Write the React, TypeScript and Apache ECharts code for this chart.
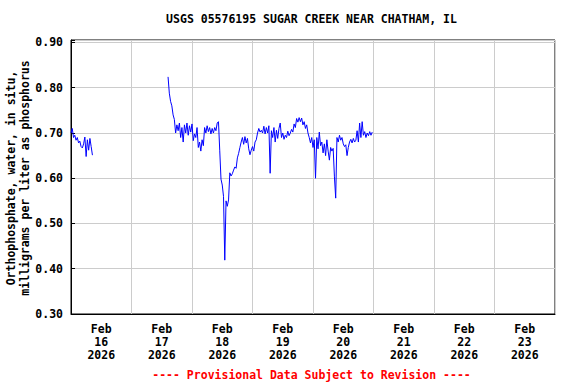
import React, { useEffect, useRef } from "react";
import * as echarts from "echarts";

const chartTitle = "USGS 05576195 SUGAR CREEK NEAR CHATHAM, IL";
const yAxisTitleLines = ["Orthophosphate, water, in situ,", "milligrams per liter as phosphorus"];
const footerText = "---- Provisional Data Subject to Revision ----";
const monthLabel = "Feb";
const yearLabel = "2026";
const dayLabels = ["16", "17", "18", "19", "20", "21", "22", "23"];

// hours since Feb 16 2026 00:00, 30-minute readings
const stepHours = 0.5;
const seg1StartHour = 0;
const seg1Values = [
  0.700, 0.710, 0.690, 0.695, 0.684, 0.690, 0.678, 0.682, 0.670, 0.667,
  0.676, 0.691, 0.648, 0.685, 0.662, 0.688, 0.670, 0.651,
];
const seg2StartHour = 38.5;
const seg2Values = [
  0.824, 0.788, 0.770, 0.760, 0.740, 0.730, 0.700, 0.718, 0.705, 0.722,
  0.690, 0.712, 0.680, 0.718, 0.700, 0.722, 0.695, 0.716, 0.702, 0.720,
  0.683, 0.698, 0.690, 0.712, 0.668, 0.680, 0.660, 0.685, 0.672, 0.712,
  0.700, 0.716, 0.703, 0.712, 0.698, 0.710, 0.700, 0.712, 0.705, 0.722,
  0.725, 0.662, 0.598, 0.585, 0.560, 0.419, 0.550, 0.538, 0.552, 0.612,
  0.605, 0.610, 0.618, 0.625, 0.622, 0.645, 0.655, 0.668, 0.680, 0.690,
  0.675, 0.692, 0.678, 0.688, 0.665, 0.652, 0.662, 0.670, 0.660, 0.680,
  0.685, 0.700, 0.710, 0.702, 0.706, 0.700, 0.715, 0.698, 0.712, 0.700,
  0.716, 0.611, 0.705, 0.690, 0.712, 0.680, 0.706, 0.688, 0.710, 0.722,
  0.690, 0.700, 0.686, 0.695, 0.690, 0.704, 0.694, 0.700, 0.708, 0.702,
  0.720, 0.712, 0.732, 0.724, 0.734, 0.725, 0.733, 0.718, 0.725, 0.710,
  0.718, 0.700, 0.690, 0.678, 0.690, 0.668, 0.685, 0.600, 0.690, 0.665,
  0.702, 0.672, 0.680, 0.656, 0.676, 0.650, 0.685, 0.660, 0.640, 0.668,
  0.660, 0.666, 0.603, 0.556, 0.690, 0.680, 0.695, 0.684, 0.690, 0.676,
  0.670, 0.674, 0.650, 0.668, 0.680, 0.686, 0.678, 0.688, 0.680, 0.684,
  0.705, 0.680, 0.722, 0.690, 0.725, 0.695, 0.703, 0.690, 0.700, 0.694,
  0.703, 0.695, 0.702,
];

const yMin = 0.3;
const yMax = 0.9055;
const yStep = 0.1;
const xMaxHours = 192;

const FONT = "'DejaVu Sans Mono', monospace";

function toPairs(start: number, vals: number[]) {
  return vals.map((v, i) => [start + i * stepHours, v]);
}

export default function App() {
  const ref = useRef<HTMLDivElement>(null);
  useEffect(() => {
    if (!ref.current) return;
    const chart = echarts.init(ref.current, null, { renderer: "svg" });
    const lineStyle = { color: "#0000ff", width: 1 };
    chart.setOption({
      animation: false,
      backgroundColor: "#ffffff",
      grid: {
        left: 71,
        right: 21,
        top: 40,
        bottom: 70,
        show: true,
        borderColor: "#000",
        borderWidth: 1,
        backgroundColor: "transparent",
      },
      xAxis: [
        {
          type: "value",
          min: 0,
          max: xMaxHours,
          interval: 24,
          axisLine: { show: true, lineStyle: { color: "#000" } },
          axisTick: { show: false },
          axisLabel: { show: false },
          splitLine: { show: true, lineStyle: { color: "#cccccc", width: 1 } },
        },
        {
          type: "value",
          min: 0,
          max: xMaxHours,
          interval: 12,
          position: "bottom",
          axisLine: { show: false },
          axisTick: { show: false },
          splitLine: { show: false },
          axisLabel: {
            show: true,
            margin: 8,
            fontFamily: FONT,
            fontWeight: "bold",
            fontSize: 11.5,
            color: "#000",
            lineHeight: 13,
            align: "center",
            formatter: (v: number) => {
              const k = (v - 12) / 24;
              if (Math.abs(k - Math.round(k)) > 1e-6) return "";
              const idx = Math.round(k);
              if (idx < 0 || idx >= dayLabels.length) return "";
              return monthLabel + "\n" + dayLabels[idx] + "\n" + yearLabel;
            },
          },
        },
      ],
      yAxis: {
        type: "value",
        min: yMin,
        max: yMax,
        interval: yStep,
        axisLine: { show: true, lineStyle: { color: "#000" } },
        axisTick: { show: true, inside: true, length: 4, lineStyle: { color: "#000" } },
        splitLine: { show: true, lineStyle: { color: "#cccccc", width: 1 } },
        axisLabel: {
          margin: 8,
          fontFamily: FONT,
          fontWeight: "bold",
          fontSize: 11.5,
          color: "#000",
          formatter: (v: number) => {
            const k = (v - yMin) / yStep;
            if (Math.abs(k - Math.round(k)) > 1e-6) return "";
            return v.toFixed(2);
          },
        },
      },
      series: [
        {
          type: "line",
          xAxisIndex: 0,
          data: toPairs(seg1StartHour, seg1Values),
          showSymbol: false,
          symbol: "none",
          lineStyle,
        },
        {
          type: "line",
          xAxisIndex: 0,
          data: toPairs(seg2StartHour, seg2Values),
          showSymbol: false,
          symbol: "none",
          lineStyle,
        },
      ],
      graphic: [
        {
          type: "text",
          x: 311.5,
          y: 19,
          style: {
            text: chartTitle,
            fontFamily: FONT,
            fontWeight: "bold",
            fontSize: 11.5,
            fill: "#000",
            align: "center",
            verticalAlign: "middle",
          },
        },
        {
          type: "text",
          x: 18,
          y: 178,
          rotation: Math.PI / 2,
          style: {
            text: yAxisTitleLines.join("\n"),
            fontFamily: FONT,
            fontWeight: "bold",
            fontSize: 11.5,
            lineHeight: 14,
            fill: "#000",
            align: "center",
            verticalAlign: "middle",
          },
        },
        {
          type: "text",
          x: 311.5,
          y: 375,
          style: {
            text: footerText,
            fontFamily: FONT,
            fontWeight: "bold",
            fontSize: 11.5,
            fill: "#ff0000",
            align: "center",
            verticalAlign: "middle",
          },
        },
      ],
    });
    return () => chart.dispose();
  }, []);
  return <div ref={ref} style={{ width: 576, height: 384, position: "absolute", left: 0, top: 0 }} />;
}
